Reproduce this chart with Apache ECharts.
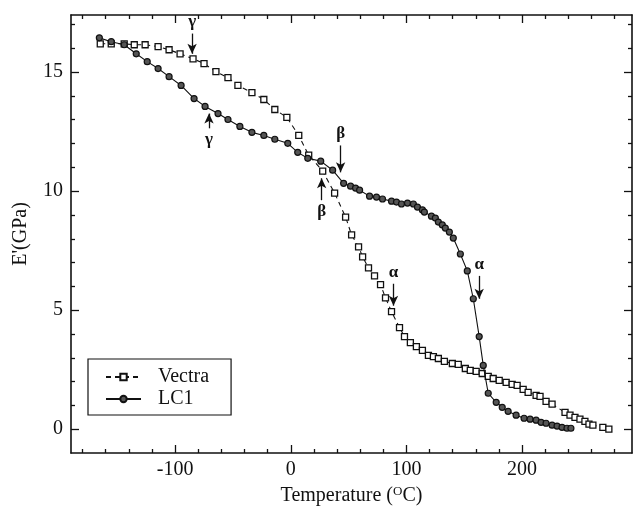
<!DOCTYPE html>
<html>
<head>
<meta charset="utf-8">
<script src="https://cdn.jsdelivr.net/npm/echarts@6/dist/echarts.min.js"></script>
<style>
  html, body { margin: 0; padding: 0; background: #fff; }
  #chart { width: 638px; height: 512px; }
</style>
</head>
<body>
<div id="chart"></div>
<script>
// 动态模量 E' vs 温度，读图估值
const vectraT = [-164.7, -155.2, -144.0, -135.3, -125.9, -114.7, -105.2, -95.7, -84.5, -75.0, -64.7, -54.3, -45.7, -33.6, -23.3, -13.8, -3.4, 6.9, 15.5, 27.6, 37.9, 47.4, 52.6, 58.6, 62.1, 67.2, 72.4, 77.6, 81.9, 87.1, 94.0, 98.3, 103.4, 108.6, 113.8, 119.0, 123.3, 127.6, 132.8, 139.7, 144.8, 150.9, 155.2, 160.3, 165.5, 170.7, 175.0, 180.2, 186.2, 191.4, 195.7, 200.9, 205.2, 212.1, 215.5, 220.7, 225.9, 237.1, 241.4, 245.7, 250.0, 254.3, 257.8, 261.2, 269.8, 275.0];
const vectraE = [16.19, 16.19, 16.19, 16.15, 16.15, 16.07, 15.94, 15.77, 15.56, 15.36, 15.02, 14.77, 14.44, 14.14, 13.85, 13.43, 13.10, 12.34, 11.51, 10.84, 9.92, 8.91, 8.16, 7.66, 7.24, 6.78, 6.44, 6.07, 5.52, 4.94, 4.27, 3.89, 3.64, 3.47, 3.31, 3.10, 3.05, 2.97, 2.85, 2.76, 2.72, 2.55, 2.47, 2.43, 2.34, 2.22, 2.13, 2.05, 1.97, 1.88, 1.84, 1.67, 1.55, 1.42, 1.38, 1.17, 1.05, 0.71, 0.59, 0.50, 0.42, 0.33, 0.21, 0.17, 0.08, 0.00];

const lc1T = [-165.5, -155.2, -144.0, -133.6, -124.1, -114.7, -105.2, -94.8, -83.6, -74.1, -62.9, -54.3, -44.0, -33.6, -23.3, -13.8, -2.6, 6.0, 14.7, 25.9, 36.2, 45.7, 51.7, 56.0, 59.5, 68.1, 74.1, 79.3, 87.1, 91.4, 95.7, 100.9, 106.0, 109.5, 113.8, 115.5, 121.6, 125.0, 127.6, 131.0, 133.6, 137.1, 140.5, 146.6, 152.6, 157.8, 162.9, 166.4, 170.7, 177.6, 182.8, 187.9, 194.8, 201.7, 206.9, 212.1, 216.4, 220.7, 225.9, 230.2, 234.5, 238.8, 242.2];
const lc1E = [16.44, 16.28, 16.15, 15.77, 15.44, 15.15, 14.81, 14.44, 13.89, 13.56, 13.26, 13.01, 12.72, 12.47, 12.34, 12.18, 12.01, 11.63, 11.38, 11.26, 10.88, 10.33, 10.21, 10.13, 10.04, 9.79, 9.75, 9.67, 9.58, 9.54, 9.46, 9.50, 9.46, 9.33, 9.21, 9.12, 8.95, 8.87, 8.70, 8.58, 8.45, 8.28, 8.03, 7.36, 6.65, 5.48, 3.89, 2.68, 1.51, 1.13, 0.92, 0.75, 0.59, 0.46, 0.42, 0.38, 0.29, 0.25, 0.17, 0.13, 0.08, 0.04, 0.04];

// 转变标注：[label, T, 起点 E, 箭头 E]
const vectraMarks = [
  ["γ", -85.3, 16.62, 15.77],
  ["β", 26.7, 9.62, 10.54],
  ["α", 88.8, 6.11, 5.19],
];
const lc1Marks = [
  ["γ", -70.7, 12.64, 13.26],
  ["β", 43.1, 11.92, 10.79],
  ["α", 162.9, 6.44, 5.48],
];

const X_MIN = -190, X_MAX = 295;
const Y_MIN = -1, Y_MAX = 17.4;
const xMajor = [-100, 0, 100, 200];
const xMinor = [-180, -160, -140, -120, -80, -60, -40, -20, 20, 40, 60, 80, 120, 140, 160, 180, 220, 240, 260, 280];
const yMajor = [0, 5, 10, 15];
const yMinor = [1, 2, 3, 4, 6, 7, 8, 9, 11, 12, 13, 14, 16, 17];

const FONT = "Liberation Serif";
const INK = "#111";

const zip = (xs, ys) => xs.map((x, i) => [x, ys[i]]);

function arrows(marks) {
  return {
    silent: true,
    animation: false,
    symbol: ["none", "arrow"],
    symbolSize: [7, 10],
    lineStyle: { color: INK, width: 1.3, type: "solid" },
    label: {
      position: "start",
      distance: 3,
      color: INK,
      fontFamily: FONT,
      fontSize: 17,
      fontWeight: "bold",
      formatter: (p) => p.name,
    },
    data: marks.map(([name, t, e0, e1]) => [
      { name, coord: [t, e0] },
      { coord: [t, e1] },
    ]),
  };
}

function frameAxis(position, ticks, len, withLine) {
  return {
    type: "value",
    position,
    min: position === "bottom" || position === "top" ? X_MIN : Y_MIN,
    max: position === "bottom" || position === "top" ? X_MAX : Y_MAX,
    axisLine: { show: withLine, onZero: false, lineStyle: { color: INK, width: 1.6 } },
    axisTick: { show: true, inside: true, length: len, customValues: ticks, lineStyle: { color: INK, width: 1.3 } },
    axisLabel: { show: false },
    splitLine: { show: false },
  };
}

const chart = echarts.init(document.getElementById("chart"), null, { renderer: "canvas" });
chart.setOption({
  backgroundColor: "#fff",
  animation: false,
  grid: { left: 71, right: 6, top: 15, bottom: 59 },
  legend: {
    orient: "vertical",
    left: 88,
    top: 359,
    padding: [8, 22, 6, 17],
    itemGap: 2,
    itemWidth: 35,
    itemHeight: 8,
    borderColor: INK,
    borderWidth: 1.2,
    textStyle: { fontFamily: FONT, fontSize: 20, color: INK, padding: [0, 0, 0, 12] },
    data: ["Vectra", "LC1"],
  },
  xAxis: [
    {
      type: "value",
      position: "bottom",
      min: X_MIN,
      max: X_MAX,
      name: "Temperature ({sup|O}C)",
      nameLocation: "middle",
      nameGap: 32,
      nameTextStyle: {
        fontFamily: FONT, fontSize: 20, color: INK,
        rich: { sup: { fontFamily: FONT, fontSize: 13, color: INK, padding: [0, 0, 9, 0] } },
      },
      axisLine: { onZero: false, lineStyle: { color: INK, width: 1.6 } },
      axisTick: { inside: true, length: 8, customValues: xMajor, lineStyle: { color: INK, width: 1.3 } },
      axisLabel: { customValues: xMajor, margin: 7, fontFamily: FONT, fontSize: 20, color: INK },
      splitLine: { show: false },
    },
    frameAxis("bottom", xMinor, 4, false),
    frameAxis("top", xMajor, 8, true),
    frameAxis("top", xMinor, 4, false),
  ],
  yAxis: [
    {
      type: "value",
      position: "left",
      min: Y_MIN,
      max: Y_MAX,
      name: "E'(GPa)",
      nameLocation: "middle",
      nameGap: 40,
      nameTextStyle: { fontFamily: FONT, fontSize: 20, color: INK },
      axisLine: { onZero: false, lineStyle: { color: INK, width: 1.6 } },
      axisTick: { inside: true, length: 8, customValues: yMajor, lineStyle: { color: INK, width: 1.3 } },
      axisLabel: { customValues: yMajor, margin: 8, fontFamily: FONT, fontSize: 20, color: INK },
      splitLine: { show: false },
    },
    frameAxis("left", yMinor, 4, false),
    frameAxis("right", yMajor, 8, true),
    frameAxis("right", yMinor, 4, false),
  ],
  series: [
    {
      name: "Vectra",
      type: "line",
      data: zip(vectraT, vectraE),
      symbol: "rect",
      symbolSize: 6,
      showAllSymbol: true,
      itemStyle: { color: "#fff", borderColor: INK, borderWidth: 1.3 },
      lineStyle: { color: INK, width: 1.1, type: [5, 4] },
      markLine: arrows(vectraMarks),
      z: 2,
    },
    {
      name: "LC1",
      type: "line",
      data: zip(lc1T, lc1E),
      symbol: "circle",
      symbolSize: 6,
      showAllSymbol: true,
      itemStyle: { color: "#555", borderColor: INK, borderWidth: 1.2 },
      lineStyle: { color: INK, width: 1.1 },
      markLine: arrows(lc1Marks),
      z: 3,
    },
  ],
});
</script>
</body>
</html>
